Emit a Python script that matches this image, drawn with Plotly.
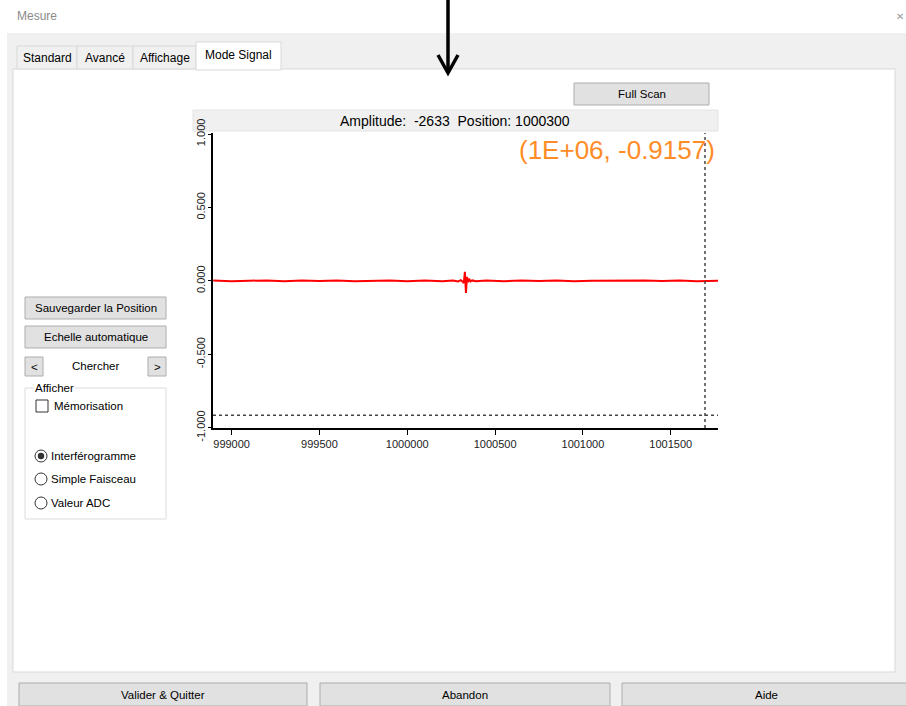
import plotly.graph_objects as go

# ---------------- data ----------------
positions = [998895, 999000, 999100, 999200, 999300, 999400, 999500, 999600, 999700,
             999800, 999900, 1000000, 1000100, 1000200, 1000260, 1000290, 1000305,
             1000315, 1000322, 1000328, 1000334, 1000340, 1000346, 1000352, 1000360,
             1000370, 1000390, 1000450, 1000550, 1000650, 1000750, 1000850, 1000950,
             1001050, 1001150, 1001250, 1001350, 1001450, 1001550, 1001650, 1001770]
amplitudes = [0.002, -0.003, 0.001, 0.003, -0.002, 0.002, -0.001, 0.003, -0.002,
              0.001, 0.002, -0.003, 0.002, -0.002, 0.003, -0.004, 0.005, -0.006,
              -0.014, 0.061, -0.082, 0.027, -0.010, 0.015, -0.004, 0.003, -0.002,
              0.002, -0.002, 0.003, -0.001, 0.002, -0.003, 0.001, 0.002, -0.002,
              0.003, -0.001, 0.002, -0.002, 0.001]
cursor_x = 1001695
cursor_y = -0.9157
cursor_label = "(1E+06, -0.9157)"
status_amplitude = -2633
status_position = 1000300
x_tick_vals = [999000, 999500, 1000000, 1000500, 1001000, 1001500]
y_tick_vals = [-1.0, -0.5, 0.0, 0.5, 1.0]
y_tick_text = ["-1.000", "-0.500", "0.000", "0.500", "1.000"]
x_range = [998894, 1001769]
y_range = [-1.002, 1.007]

tabs = ["Standard", "Avancé", "Affichage", "Mode Signal"]
radio_options = ["Interférogramme", "Simple Faisceau", "Valeur ADC"]
bottom_buttons = ["Valider & Quitter", "Abandon", "Aide"]

# ---------------- layout geometry ----------------
W, H = 906, 706
L, R, T, B = 213, 718, 133, 428


def X(px):
    return (px - L) / (R - L)


def Y(py):
    return (B - py) / (B - T)


FONT = "Liberation Sans, Arial, sans-serif"
shapes = []
annotations = []


def rect(x0, y0, x1, y1, fill, line=None, lw=1):
    shapes.append(dict(type="rect", xref="paper", yref="paper",
                       x0=X(x0), x1=X(x1), y0=Y(y1), y1=Y(y0),
                       fillcolor=fill, line=dict(color=line or fill, width=lw if line else 0),
                       layer="below"))


def circle(cx, cy, r, fill, line=None, lw=1):
    shapes.append(dict(type="circle", xref="paper", yref="paper",
                       x0=X(cx - r), x1=X(cx + r), y0=Y(cy + r), y1=Y(cy - r),
                       fillcolor=fill, line=dict(color=line or fill, width=lw if line else 0),
                       layer="above"))


def text(px, py, s, size=11.5, color="#000000", anchor="center", bg=None):
    annotations.append(dict(xref="paper", yref="paper", x=X(px), y=Y(py), text=s,
                            showarrow=False, xanchor=anchor, yanchor="middle",
                            font=dict(family=FONT, size=size, color=color),
                            bgcolor=bg, borderpad=0))


def button(x0, y0, x1, y1, label, size=11.5):
    rect(x0, y0, x1, y1, "#e1e1e1", "#adadad")
    text((x0 + x1) / 2, (y0 + y1) / 2, label, size)


# window background
rect(0, 0, W, 33, "#ffffff")
rect(7, 33, W + 2, H + 2, "#f0f0f0")
text(16, 16, "Mesure", 12, "#8a8a8a", "left")
text(895, 16, "✕", 10, "#9a9a9a", "left")

# tab panel
rect(13, 69, 895, 672, "#ffffff", "#d9d9d9")
tab_bounds = [(17, 77), (77, 133), (133, 196), (196, 281)]
for i, (name, (a, b)) in enumerate(zip(tabs, tab_bounds)):
    if i == len(tabs) - 1:
        rect(a, 42, b, 70, "#ffffff", "#d9d9d9")
        text((a + b) / 2, 55, name, 12)
    else:
        rect(a, 46, b, 69, "#f0f0f0", "#d9d9d9")
        text((a + b) / 2, 58, name, 12)

# arrow
shapes.append(dict(type="line", xref="paper", yref="paper", x0=X(448), x1=X(448),
                   y0=Y(-2), y1=Y(71), line=dict(color="#000000", width=3.5), layer="above"))
shapes.append(dict(type="path", xref="paper", yref="paper",
                   path=f"M {X(438)},{Y(55)} L {X(448)},{Y(73)} L {X(458)},{Y(55)}",
                   line=dict(color="#000000", width=3.5), layer="above"))

# full scan + status bar
button(574, 83, 709, 105, "Full Scan")
rect(193, 110, 718, 131, "#f0f0f0", "#e4e4e4")
text(455, 121, f"Amplitude:  {status_amplitude}  Position: {status_position}", 14)

# left controls
button(25, 297, 166, 319, "Sauvegarder la Position")
button(25, 326, 166, 348, "Echelle automatique")
button(25, 357, 43, 376, "<")
button(148, 357, 166, 376, ">")
text(95, 366, "Chercher", 11.5)
rect(25, 388, 166, 519, "#ffffff", "#dcdcdc")
text(34, 388, "Afficher", 11.5, anchor="left", bg="#ffffff")
rect(36, 400, 48, 412, "#ffffff", "#333333")
text(53, 406, "Mémorisation", 11.5, anchor="left")
for j, (lab, cy) in enumerate(zip(radio_options, [456, 479, 503])):
    circle(41, cy, 6, "#ffffff", "#333333")
    if j == 0:
        circle(41, cy, 3.2, "#333333")
    text(50, cy, lab, 11.5, anchor="left")

# bottom buttons
for lab, (a, b) in zip(bottom_buttons, [(19, 307), (320, 610), (622, 910)]):
    button(a, 683, b, 706, lab)

# cursor label
text(716, 150, cursor_label, 26, "#ff8c26", "right")

# ---------------- figure ----------------
fig = go.Figure()
fig.add_trace(go.Scatter(x=positions, y=amplitudes, mode="lines",
                         line=dict(color="#ff0000", width=2), hoverinfo="skip"))
fig.add_trace(go.Scatter(x=x_range, y=[cursor_y, cursor_y], mode="lines",
                         line=dict(color="#444444", width=1.5, dash="dot"), hoverinfo="skip"))
fig.add_trace(go.Scatter(x=[cursor_x, cursor_x], y=y_range, mode="lines",
                         line=dict(color="#444444", width=1.5, dash="dot"), hoverinfo="skip"))

fig.update_layout(
    width=W, height=H, autosize=False,
    margin=dict(l=L, r=W - R, t=T, b=H - B, pad=0),
    paper_bgcolor="#ffffff", plot_bgcolor="#ffffff",
    showlegend=False, shapes=shapes, annotations=annotations,
    font=dict(family=FONT),
)
fig.update_xaxes(range=x_range, tickvals=x_tick_vals, tickformat="d",
                 showgrid=False, zeroline=False, showline=True, linecolor="#000000",
                 linewidth=2, ticks="outside", ticklen=5, tickcolor="#000000",
                 tickfont=dict(family=FONT, size=11, color="#222222"), automargin=False)
fig.update_yaxes(range=y_range, tickvals=y_tick_vals, ticktext=y_tick_text, tickangle=-90,
                 showgrid=False, zeroline=False, showline=True, linecolor="#000000",
                 linewidth=2, ticks="outside", ticklen=3, tickcolor="#000000",
                 ticklabelstandoff=-1,
                 tickfont=dict(family=FONT, size=11, color="#222222"), automargin=False)

fig.write_html("out.html", config={"displayModeBar": False},
               post_script="document.body.style.margin='0';document.body.style.overflow='hidden';")
